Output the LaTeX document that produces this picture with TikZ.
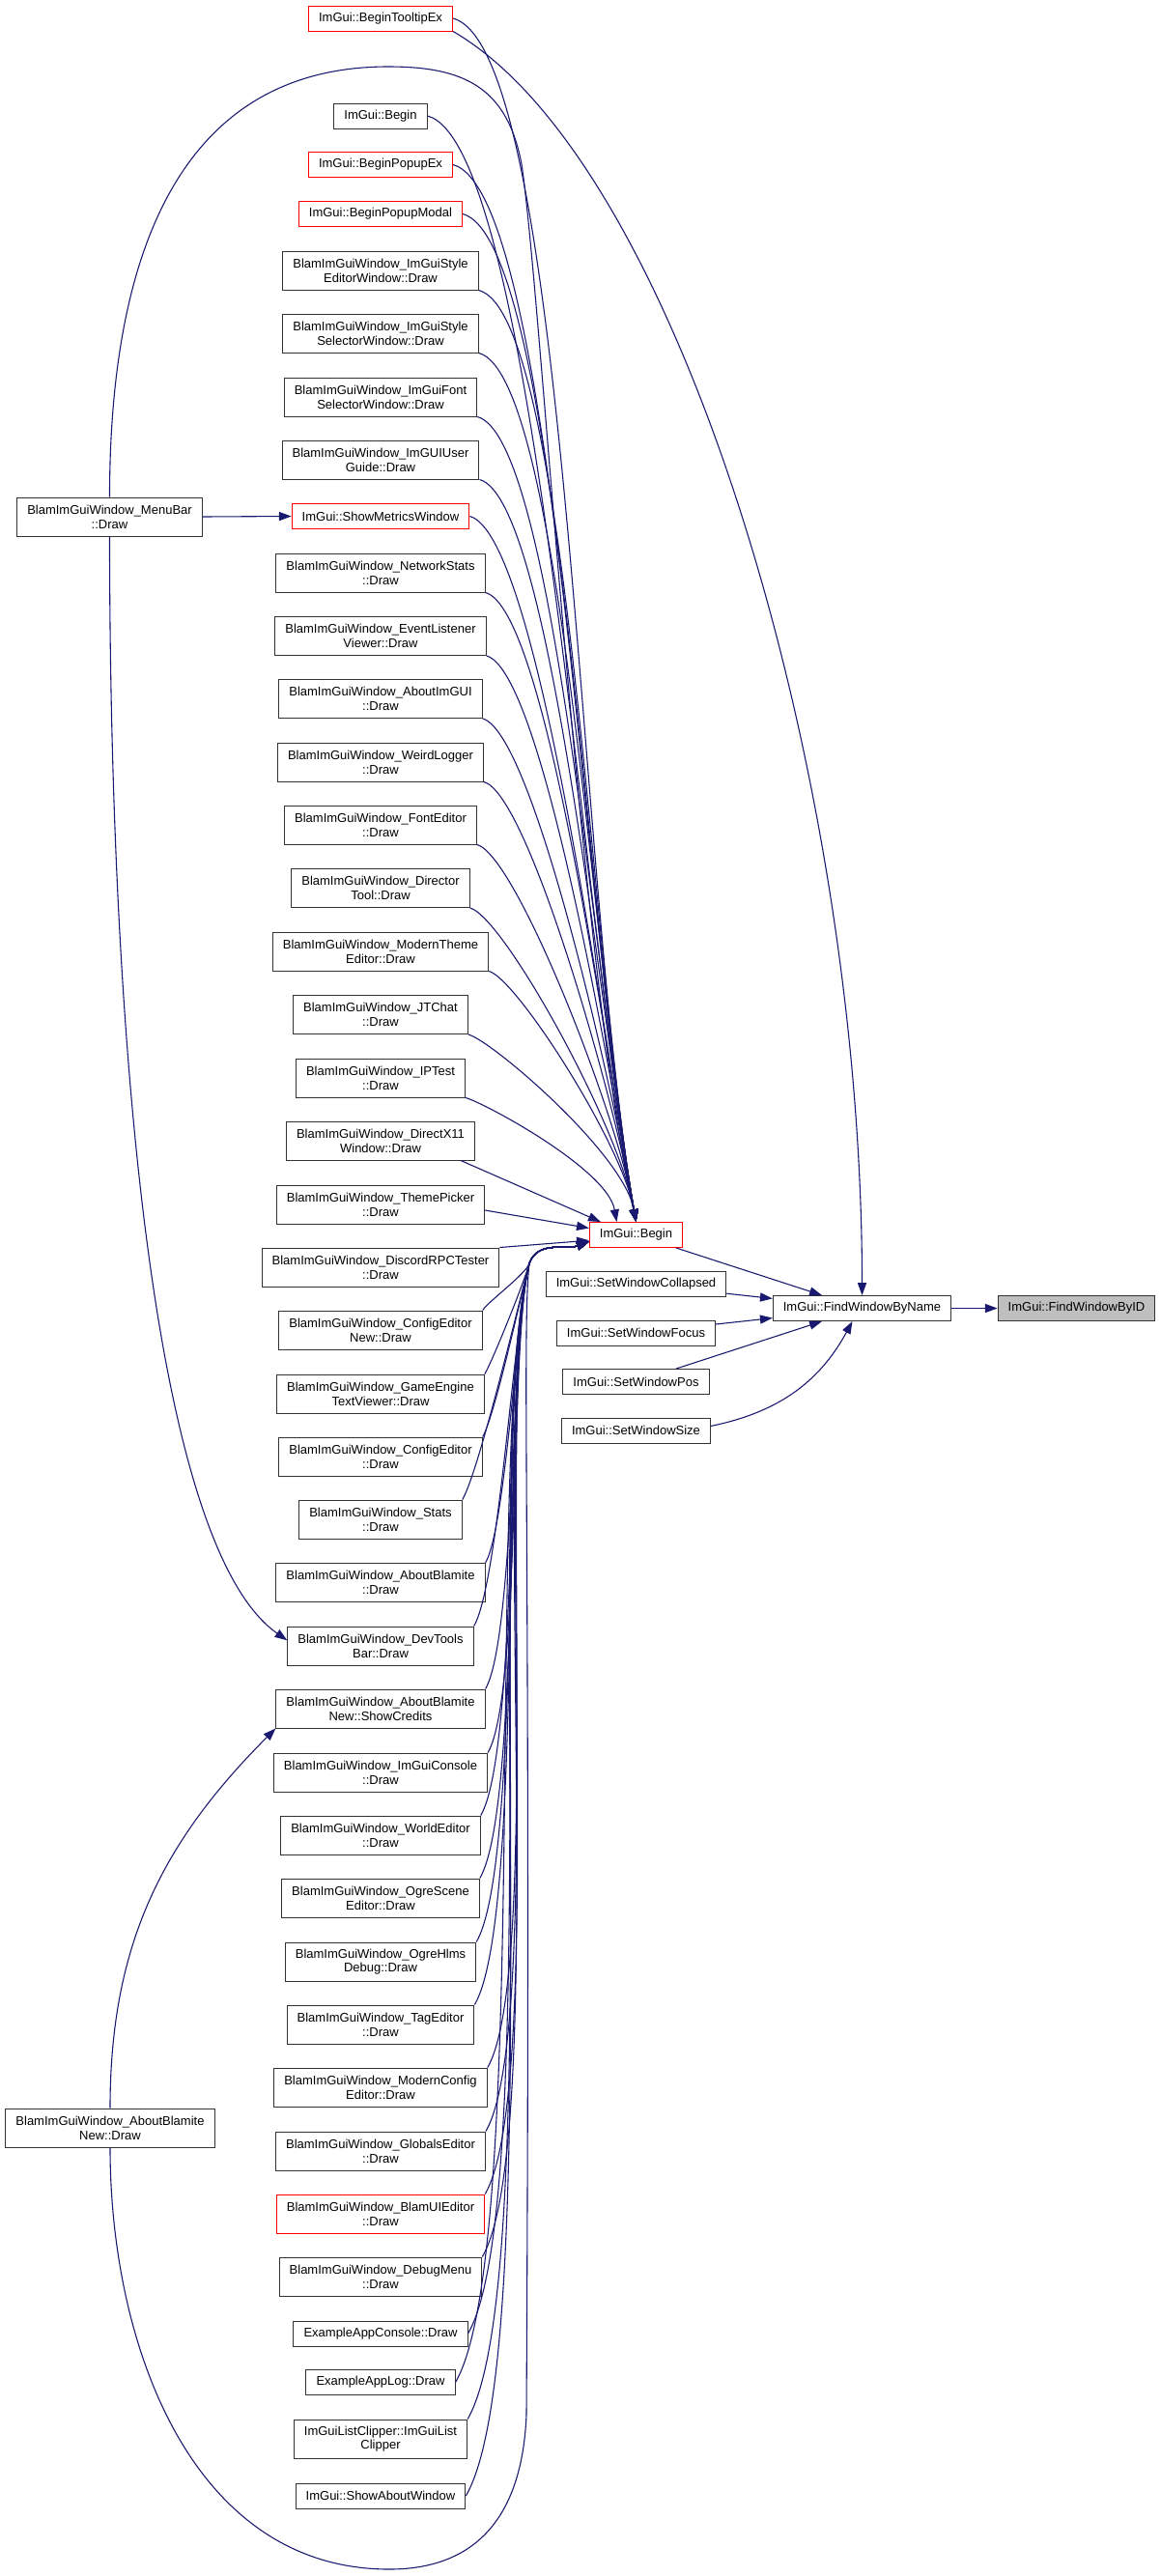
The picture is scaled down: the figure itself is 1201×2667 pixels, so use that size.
\documentclass[tikz,border=0pt]{standalone}
\usepackage{fontspec}
\setmainfont{Liberation Sans}
\usetikzlibrary{arrows.meta}
\definecolor{navy}{HTML}{191970}
\definecolor{truncred}{HTML}{FF0000}

\begin{document}
\begin{tikzpicture}[%
  x=0.35pt, y=0.35pt,
  fn/.style={draw=black!80, line width=0.35pt, inner xsep=3.7pt, inner ysep=0pt,
    minimum height=9.1pt, align=center, font=\fontsize{4.55}{5.15}\selectfont},
  two/.style={minimum height=14pt},
  redbox/.style={draw=truncred},
  selected/.style={fill=black!25},
  call/.style={draw=navy, line width=0.38pt, -{Triangle[length=4.5pt,width=3.2pt]}},
  fromup/.style={out=-15, in=100, out looseness=0.25, in looseness=0.7},
  fromdn/.style={out=60, in=255, out looseness=0.35, in looseness=0.4},
  intobegin/.style={out=70, in=200}]
  \path[use as bounding box, fill=white] (0,0) rectangle (1201,-2667);

  \node[fn, redbox] (tip) at (394,-19) {ImGui::BeginTooltipEx};
  \node[fn] (btop) at (394,-120) {ImGui::Begin};
  \node[fn, redbox] (popex) at (394,-170.5) {ImGui::BeginPopupEx};
  \node[fn, redbox] (popmod) at (394,-221.5) {ImGui::BeginPopupModal};
  \node[fn, two] (styed) at (394,-280) {BlamImGuiWindow\_ImGuiStyle\\EditorWindow::Draw};
  \node[fn, two] (stysel) at (394,-345) {BlamImGuiWindow\_ImGuiStyle\\SelectorWindow::Draw};
  \node[fn, two] (fontsel) at (394,-411) {BlamImGuiWindow\_ImGuiFont\\SelectorWindow::Draw};
  \node[fn, two] (guide) at (394,-476) {BlamImGuiWindow\_ImGUIUser\\Guide::Draw};
  \node[fn, redbox] (metrics) at (394,-534.5) {ImGui::ShowMetricsWindow};
  \node[fn, two] (net) at (394,-593) {BlamImGuiWindow\_NetworkStats\\::Draw};
  \node[fn, two] (evt) at (394,-658.5) {BlamImGuiWindow\_EventListener\\Viewer::Draw};
  \node[fn, two] (aboutgui) at (394,-723.5) {BlamImGuiWindow\_AboutImGUI\\::Draw};
  \node[fn, two] (weird) at (394,-789) {BlamImGuiWindow\_WeirdLogger\\::Draw};
  \node[fn, two] (fonted) at (394,-854) {BlamImGuiWindow\_FontEditor\\::Draw};
  \node[fn, two] (director) at (394,-919.5) {BlamImGuiWindow\_Director\\Tool::Draw};
  \node[fn, two] (modtheme) at (394,-985) {BlamImGuiWindow\_ModernTheme\\Editor::Draw};
  \node[fn, two] (jtchat) at (394,-1050.5) {BlamImGuiWindow\_JTChat\\::Draw};
  \node[fn, two] (iptest) at (394,-1116) {BlamImGuiWindow\_IPTest\\::Draw};
  \node[fn, two] (dx11) at (394,-1181) {BlamImGuiWindow\_DirectX11\\Window::Draw};
  \node[fn, two] (theme) at (394,-1247) {BlamImGuiWindow\_ThemePicker\\::Draw};
  \node[fn, two] (discord) at (394,-1312) {BlamImGuiWindow\_DiscordRPCTester\\::Draw};
  \node[fn, two] (cfgnew) at (394,-1377) {BlamImGuiWindow\_ConfigEditor\\New::Draw};
  \node[fn, two] (gametext) at (394,-1443) {BlamImGuiWindow\_GameEngine\\TextViewer::Draw};
  \node[fn, two] (cfged) at (394,-1508) {BlamImGuiWindow\_ConfigEditor\\::Draw};
  \node[fn, two] (stats) at (394,-1573) {BlamImGuiWindow\_Stats\\::Draw};
  \node[fn, two] (aboutbl) at (394,-1638.5) {BlamImGuiWindow\_AboutBlamite\\::Draw};
  \node[fn, two] (devtools) at (394,-1704) {BlamImGuiWindow\_DevTools\\Bar::Draw};
  \node[fn, two] (credits) at (394,-1769) {BlamImGuiWindow\_AboutBlamite\\New::ShowCredits};
  \node[fn, two] (console) at (394,-1835) {BlamImGuiWindow\_ImGuiConsole\\::Draw};
  \node[fn, two] (world) at (394,-1900) {BlamImGuiWindow\_WorldEditor\\::Draw};
  \node[fn, two] (ogrescene) at (394,-1965) {BlamImGuiWindow\_OgreScene\\Editor::Draw};
  \node[fn, two] (ogrehlms) at (394,-2031) {BlamImGuiWindow\_OgreHlms\\Debug::Draw};
  \node[fn, two] (tagedit) at (394,-2096) {BlamImGuiWindow\_TagEditor\\::Draw};
  \node[fn, two] (modcfg) at (394,-2161) {BlamImGuiWindow\_ModernConfig\\Editor::Draw};
  \node[fn, two] (globals) at (394,-2227) {BlamImGuiWindow\_GlobalsEditor\\::Draw};
  \node[fn, two, redbox] (blamui) at (394,-2292) {BlamImGuiWindow\_BlamUIEditor\\::Draw};
  \node[fn, two] (debugmenu) at (394,-2357) {BlamImGuiWindow\_DebugMenu\\::Draw};
  \node[fn] (appconsole) at (394,-2416) {ExampleAppConsole::Draw};
  \node[fn] (applog) at (394,-2466.5) {ExampleAppLog::Draw};
  \node[fn, two] (clipper) at (394,-2525) {ImGuiListClipper::ImGuiList\\Clipper};
  \node[fn] (aboutwin) at (394,-2584) {ImGui::ShowAboutWindow};

  \node[fn, two] (menubar) at (113.5,-535) {BlamImGuiWindow\_MenuBar\\::Draw};
  \node[fn, two] (abnew) at (114,-2203) {BlamImGuiWindow\_AboutBlamite\\New::Draw};

  \node[fn, redbox] (begin) at (658.5,-1278.5) {ImGui::Begin};
  \node[fn] (collapsed) at (658.5,-1329) {ImGui::SetWindowCollapsed};
  \node[fn] (focus) at (658.5,-1380) {ImGui::SetWindowFocus};
  \node[fn] (pos) at (658.5,-1430.5) {ImGui::SetWindowPos};
  \node[fn] (size) at (658.5,-1481) {ImGui::SetWindowSize};
  \node[fn] (fwbn) at (892.5,-1354.5) {ImGui::FindWindowByName};
  \node[fn, selected] (fwbid) at (1114.5,-1354.5) {ImGui::FindWindowByID};
  \coordinate (funnel) at (548,-1308);

  \draw[call] (tip.east) to[fromup] (begin.north);
  \draw[call] (tip.south east) to[out=-30, in=90, out looseness=0.5] (fwbn.north);
  \draw[call] (menubar.north) to[out=90, in=180, looseness=1.1] (402,-69)
    .. controls (480,-69) and (525,-90) .. (540,-170)
    .. controls (560,-300) and (600,-1000) .. (begin.north);
  \draw[call] (menubar.east) -- (metrics.west);
  \draw[call] (menubar.south) to[out=-90, in=145, in looseness=0.4] ([yshift=2pt]devtools.west);
  \draw[call] (abnew.north) to[out=90, in=-135] (credits.south west);
  \draw[call] (abnew.south) to[out=-90, in=180] (403,-2660)
    .. controls (480,-2660) and (540,-2620) .. (545,-2500)
    .. controls (550,-1600) and (540,-1380) .. (funnel)
    to[intobegin] ([yshift=-2.45pt]begin.west);

  \draw[call] (btop.east) to[fromup] (begin.north);
  \draw[call] (popex.east) to[fromup] (begin.north);
  \draw[call] (popmod.east) to[fromup] (begin.north);
  \draw[call] (styed.south east) to[fromup] (begin.north);
  \draw[call] (stysel.south east) to[fromup] (begin.north);
  \draw[call] (fontsel.south east) to[fromup] (begin.north);
  \draw[call] (guide.south east) to[fromup] (begin.north);
  \draw[call] (metrics.east) to[fromup] (begin.north);
  \draw[call] (net.south east) to[fromup] (begin.north);
  \draw[call] (evt.south east) to[fromup] (begin.north);
  \draw[call] (aboutgui.south east) to[fromup] (begin.north);
  \draw[call] (weird.south east) to[fromup] (begin.north);
  \draw[call] (fonted.south east) to[fromup] (begin.north);
  \draw[call] (director.south east) to[fromup] (begin.north);
  \draw[call] (modtheme.south east) to[fromup] (begin.north);
  \draw[call] (jtchat.south east) to[fromup] (begin.north);
  \draw[call] (iptest.south east) to[fromup] ([xshift=-7pt]begin.north);
  \draw[call] ([xshift=-5.25pt]dx11.south east) -- ([xshift=4.2pt]begin.north west);
  \draw[call] ([yshift=-2.1pt]theme.east) -- ([yshift=2.45pt]begin.west);
  \draw[call] (discord.north east) -- ([yshift=-2pt]begin.west);
  \draw[call] (cfgnew.north east) to[fromdn] (funnel) to[intobegin] ([yshift=-2.45pt]begin.west);
  \draw[call] (gametext.north east) to[fromdn] (funnel) to[intobegin] ([yshift=-2.45pt]begin.west);
  \draw[call] (cfged.north east) to[fromdn] (funnel) to[intobegin] ([yshift=-2.45pt]begin.west);
  \draw[call] (stats.north east) to[fromdn] (funnel) to[intobegin] ([yshift=-2.45pt]begin.west);
  \draw[call] (aboutbl.north east) to[fromdn] (funnel) to[intobegin] ([yshift=-2.45pt]begin.west);
  \draw[call] (devtools.north east) to[fromdn] (funnel) to[intobegin] ([yshift=-2.45pt]begin.west);
  \draw[call] (credits.north east) to[fromdn] (funnel) to[intobegin] ([yshift=-2.45pt]begin.west);
  \draw[call] (console.north east) to[fromdn] (funnel) to[intobegin] ([yshift=-2.45pt]begin.west);
  \draw[call] (world.north east) to[fromdn] (funnel) to[intobegin] ([yshift=-2.45pt]begin.west);
  \draw[call] (ogrescene.north east) to[fromdn] (funnel) to[intobegin] ([yshift=-2.45pt]begin.west);
  \draw[call] (ogrehlms.north east) to[fromdn] (funnel) to[intobegin] ([yshift=-2.45pt]begin.west);
  \draw[call] (tagedit.north east) to[fromdn] (funnel) to[intobegin] ([yshift=-2.45pt]begin.west);
  \draw[call] (modcfg.north east) to[fromdn] (funnel) to[intobegin] ([yshift=-2.45pt]begin.west);
  \draw[call] (globals.north east) to[fromdn] (funnel) to[intobegin] ([yshift=-2.45pt]begin.west);
  \draw[call] (blamui.north east) to[fromdn] (funnel) to[intobegin] ([yshift=-2.45pt]begin.west);
  \draw[call] (debugmenu.north east) to[fromdn] (funnel) to[intobegin] ([yshift=-2.45pt]begin.west);
  \draw[call] (appconsole.east) to[fromdn] (funnel) to[intobegin] ([yshift=-2.45pt]begin.west);
  \draw[call] (applog.east) to[fromdn] (funnel) to[intobegin] ([yshift=-2.45pt]begin.west);
  \draw[call] (clipper.north east) to[fromdn] (funnel) to[intobegin] ([yshift=-2.45pt]begin.west);
  \draw[call] (aboutwin.east) to[fromdn] (funnel) to[intobegin] ([yshift=-2.45pt]begin.west);

  \draw[call] (begin) -- (fwbn);
  \draw[call] (collapsed) -- (fwbn);
  \draw[call] (focus) -- (fwbn);
  \draw[call] (pos) -- (fwbn);
  \draw[call] (size) to[bend right=25] (fwbn);
  \draw[call] (fwbn) -- (fwbid);

\end{tikzpicture}
\end{document}
